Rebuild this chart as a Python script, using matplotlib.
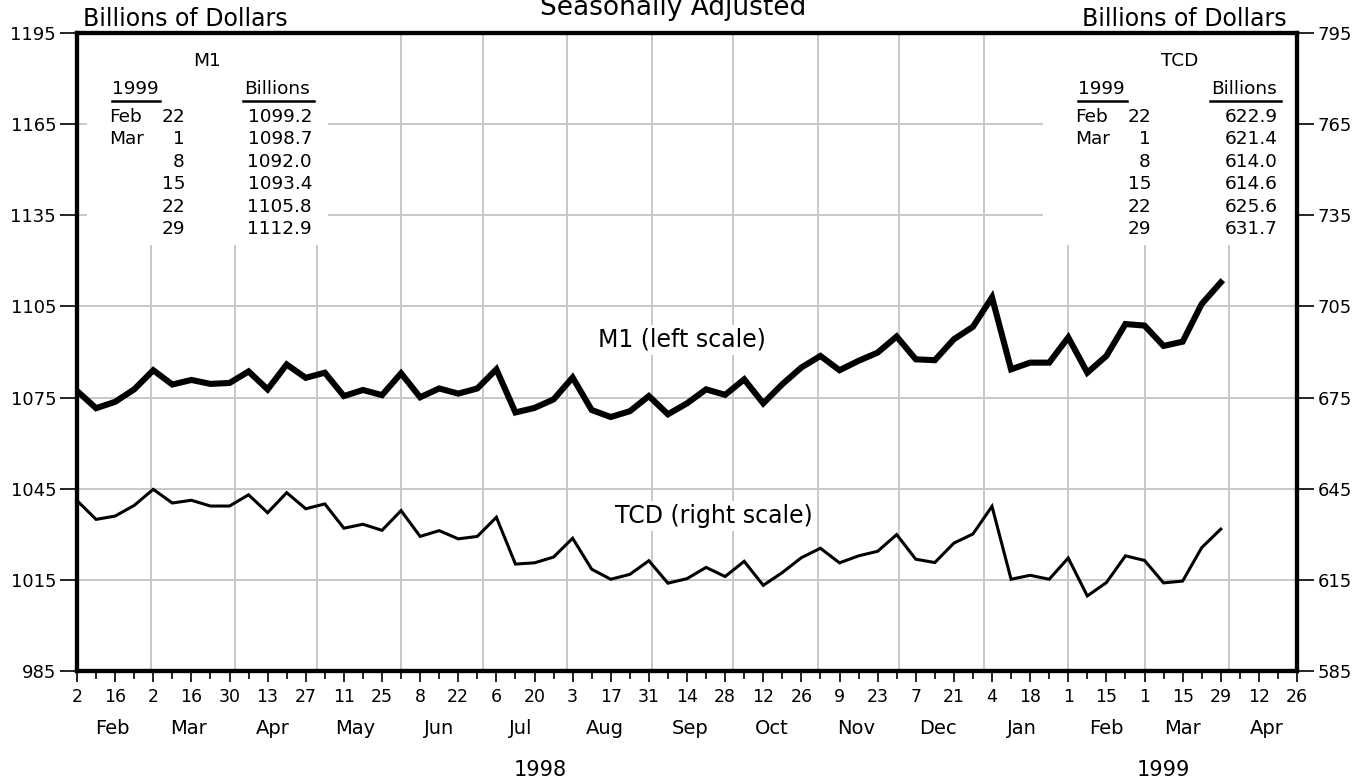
import numpy as np
import pandas as pd
import matplotlib
matplotlib.use('Agg')
import matplotlib.pyplot as plt
import matplotlib.dates as mdates
import matplotlib.transforms as mtransforms
from matplotlib.patches import Rectangle
from matplotlib.lines import Line2D

# weekly observations, Feb 2 1998 .. Mar 29 1999
dates = pd.date_range('1998-02-02', '1999-03-29', freq='7D')

m1 = [1077.2, 1071.5, 1073.6, 1077.7, 1084.0, 1079.3, 1080.8, 1079.5, 1079.8,
      1083.6, 1077.7, 1085.9, 1081.5, 1083.2, 1075.5, 1077.5, 1075.8, 1083.0,
      1075.1, 1078.0, 1076.3, 1078.0, 1084.3, 1070.1, 1071.6, 1074.4, 1081.6,
      1070.9, 1068.6, 1070.5, 1075.5, 1069.5, 1073.1, 1077.7, 1075.9, 1081.0,
      1073.1, 1079.4, 1084.9, 1088.7, 1084.0, 1087.1, 1089.8, 1095.1, 1087.6,
      1087.3, 1094.2, 1098.3, 1108.0, 1084.3, 1086.5, 1086.5, 1094.8, 1083.2,
      1088.7, 1099.2, 1098.7, 1092.0, 1093.4, 1105.8, 1112.9]

tcd = [641.1, 634.9, 636.0, 639.5, 644.8, 640.3, 641.2, 639.3, 639.3,
       643.0, 637.1, 643.7, 638.4, 640.0, 632.0, 633.3, 631.3, 637.8,
       629.3, 631.2, 628.5, 629.3, 635.6, 620.2, 620.6, 622.5, 628.7,
       618.5, 615.2, 616.8, 621.3, 613.9, 615.4, 619.1, 616.1, 621.1,
       613.2, 617.4, 622.3, 625.4, 620.6, 622.9, 624.4, 629.9, 621.8,
       620.7, 627.1, 630.1, 639.2, 615.2, 616.5, 615.2, 622.2, 609.7,
       614.1, 622.9, 621.4, 614.0, 614.6, 625.6, 631.7]

table_months = ['Feb', 'Mar', '', '', '', '']
table_days = ['22', '1', '8', '15', '22', '29']
m1_table = [f'{v:.1f}' for v in m1[-6:]]
tcd_table = [f'{v:.1f}' for v in tcd[-6:]]

left_ticks = list(range(985, 1196, 30))
right_ticks = list(range(585, 796, 30))

W, H = 1372, 782
def fx(x):
    return x / W
def fy(y):
    return 1 - y / H

GRID = '#c8c8c8'
plt.rcParams['font.family'] = 'DejaVu Sans'

fig = plt.figure(figsize=(W / 100, H / 100), dpi=100)
ax = fig.add_axes([fx(77), fy(671), (1297 - 77) / W, (671 - 33) / H])
ax2 = ax.twinx()

x0 = pd.Timestamp('1998-02-02')
x1 = pd.Timestamp('1999-04-26')
ax.set_xlim(x0, x1)
ax.set_ylim(985, 1195)
ax2.set_ylim(585, 795)

# grid
ax.set_axisbelow(True)
ax.set_yticks(left_ticks)
ax.yaxis.grid(True, color=GRID, lw=1.4)
for d in pd.date_range('1998-03-01', '1999-04-01', freq='MS'):
    ax.axvline(d, color=GRID, lw=1.4, zorder=0.6)

# white boxes behind the tables
for (l, r) in [(87, 328), (1043, 1295)]:
    ax.add_patch(Rectangle((fx(l), fy(245)), (r - l) / W, (245 - 34) / H,
                           transform=fig.transFigure, facecolor='white',
                           edgecolor='none', zorder=1))

ax.plot(dates, m1, color='black', lw=4.4, zorder=3, solid_joinstyle='miter')
ax2.plot(dates, tcd, color='black', lw=2.2, zorder=3, solid_joinstyle='miter')

# axes styling
for a in (ax, ax2):
    for s in a.spines.values():
        s.set_linewidth(3)
ax.tick_params(axis='y', direction='out', length=12, width=1.2, labelsize=13, pad=3)
ax2.set_yticks(right_ticks)
ax2.tick_params(axis='y', direction='out', length=12, width=1.2, labelsize=13, pad=3)

major = pd.date_range(x0, x1, freq='14D')
minor = pd.date_range(x0, x1, freq='7D')
ax.set_xticks(major)
ax.set_xticklabels([str(d.day) for d in major])
ax.set_xticks(minor, minor=True)
ax.tick_params(axis='x', which='major', direction='out', length=8, width=1.2,
               labelsize=12.5, pad=4)
ax.tick_params(axis='x', which='minor', direction='out', length=6, width=1.2)

trans = mtransforms.blended_transform_factory(ax.transData, fig.transFigure)
for d in pd.date_range('1998-02-01', '1999-04-01', freq='MS'):
    ax.text(d + pd.Timedelta(days=14), fy(728), d.strftime('%b'), transform=trans,
            ha='center', va='center', fontsize=14)
ax.text(pd.Timestamp('1998-07-22'), fy(770), '1998', transform=trans,
        ha='center', va='center', fontsize=15)
ax.text(pd.Timestamp('1999-03-08'), fy(770), '1999', transform=trans,
        ha='center', va='center', fontsize=15)

# titles
fig.text(fx(673), fy(15), 'Seasonally Adjusted', ha='center', va='baseline', fontsize=19)
fig.text(fx(83), fy(26), 'Billions of Dollars', ha='left', va='baseline', fontsize=17)
fig.text(fx(1287), fy(26), 'Billions of Dollars', ha='right', va='baseline', fontsize=17)

# series labels
box = dict(facecolor='white', edgecolor='none', pad=2)
ax.text(pd.Timestamp('1998-09-12'), 1094, 'M1 (left scale)', ha='center', va='center',
        fontsize=17, bbox=box, zorder=2)
ax2.text(pd.Timestamp('1998-09-24'), 636, 'TCD (right scale)', ha='center', va='center',
         fontsize=17, bbox=box, zorder=2)

# inset tables
def draw_table(title, tx, yr_c, yr_ul, bil_c, bil_ul, mon_l, day_r, val_r, values):
    fs = 13.3
    fig.text(fx(tx), fy(61), title, ha='center', va='center', fontsize=fs)
    fig.text(fx(yr_c), fy(89.5), '1999', ha='center', va='center', fontsize=fs)
    fig.text(fx(bil_c), fy(89.5), 'Billions', ha='center', va='center', fontsize=fs)
    for (a, b) in (yr_ul, bil_ul):
        fig.add_artist(Line2D([fx(a), fx(b)], [fy(100.5), fy(100.5)],
                              transform=fig.transFigure, color='black', lw=1.8))
    for i in range(6):
        y = fy(117 + i * 22.4)
        fig.text(fx(mon_l), y, table_months[i], ha='left', va='center', fontsize=fs)
        fig.text(fx(day_r), y, table_days[i], ha='right', va='center', fontsize=fs)
        fig.text(fx(val_r), y, values[i], ha='right', va='center', fontsize=fs)

draw_table('M1', 207, 135, (112, 160), 277, (243, 314), 109, 185, 312, m1_table)
draw_table('TCD', 1180, 1101, (1078, 1127), 1244, (1210, 1281), 1075, 1151, 1278, tcd_table)

fig.savefig('out.png', dpi=100)
